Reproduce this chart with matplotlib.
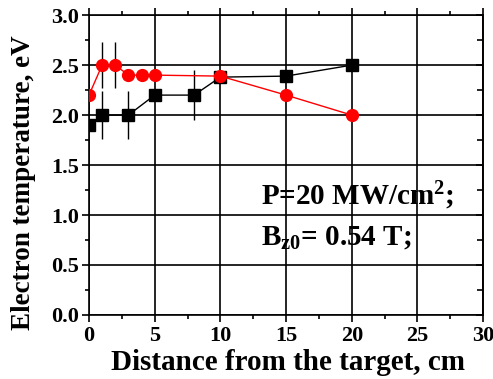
import matplotlib
matplotlib.use("Agg")
import matplotlib.pyplot as plt
from matplotlib.ticker import MultipleLocator, FormatStrFormatter, NullFormatter

black_x = [0, 1, 3, 5, 8, 10, 15, 20]
black_y = [1.9, 2.0, 2.0, 2.2, 2.2, 2.38, 2.39, 2.5]
black_err = [0, 0.24, 0.24, 0, 0.25, 0, 0, 0]

red_x = [0, 1, 2, 3, 4, 5, 10, 15, 20]
red_y = [2.2, 2.5, 2.5, 2.4, 2.4, 2.4, 2.39, 2.2, 2.0]
red_err = [0, 0.23, 0.23, 0, 0, 0, 0, 0, 0]

plt.rcParams['font.family'] = ['Liberation Serif', 'DejaVu Serif']
plt.rcParams['font.weight'] = 'bold'
plt.rcParams['mathtext.fontset'] = 'custom'
plt.rcParams['mathtext.rm'] = 'Liberation Serif:bold'
plt.rcParams['mathtext.bf'] = 'Liberation Serif:bold'
plt.rcParams['mathtext.it'] = 'Liberation Serif:bold'

fig = plt.figure(figsize=(4.93, 3.79), dpi=100)
ax = fig.add_axes([0.1805, 0.169, 0.7995, 0.791])

ax.errorbar(black_x, black_y, yerr=black_err, color='black', marker='s', ms=9,
            lw=1, elinewidth=1, capsize=0, zorder=3)
ax.errorbar(red_x, red_y, yerr=red_err, color='red', ecolor='black', marker='o', ms=8.5,
            lw=1, elinewidth=1, capsize=0, zorder=4)

ax.set_xlim(0, 30)
ax.set_ylim(0, 3.0)
ax.xaxis.set_major_locator(MultipleLocator(5))
ax.xaxis.set_minor_locator(MultipleLocator(2.5))
ax.yaxis.set_major_locator(MultipleLocator(0.5))
ax.yaxis.set_minor_locator(MultipleLocator(0.25))
ax.yaxis.set_major_formatter(FormatStrFormatter('%.1f'))
ax.grid(True, which='major', color='black', lw=1.2)
ax.tick_params(which='both', direction='out', top=True, right=False, labelsize=16, width=1.2)
ax.tick_params(which='major', length=5)
ax.tick_params(which='minor', length=3)
ax.tick_params(axis='x', pad=3)
ax.tick_params(axis='y', pad=2)
for s in ax.spines.values():
    s.set_linewidth(1.2)

sec = ax.secondary_yaxis('right')
sec.yaxis.set_major_locator(MultipleLocator(0.5))
sec.yaxis.set_minor_locator(MultipleLocator(0.25))
sec.yaxis.set_major_formatter(NullFormatter())
sec.tick_params(which='both', direction='in', width=1.2)
sec.tick_params(which='major', length=5)
sec.tick_params(which='minor', length=4)
sec.spines['right'].set_linewidth(1.2)

ax.set_xlabel('Distance from the target, cm', fontsize=21, fontweight='bold', va='top')
ax.xaxis.set_label_coords(0.504, -0.112)
ax.set_ylabel('Electron temperature, eV', fontsize=19.5, fontweight='bold')
ax.yaxis.set_label_coords(-0.135, 0.44)

ax.text(13.1, 1.10, r'P=20 MW/cm$^{\mathrm{2}}$;', fontsize=21, fontweight='bold', va='baseline')
ax.text(13.1, 0.70, r'B$_{\mathrm{z0}}$= 0.54 T;', fontsize=21, fontweight='bold', va='baseline')

fig.savefig('out.png', dpi=100)
